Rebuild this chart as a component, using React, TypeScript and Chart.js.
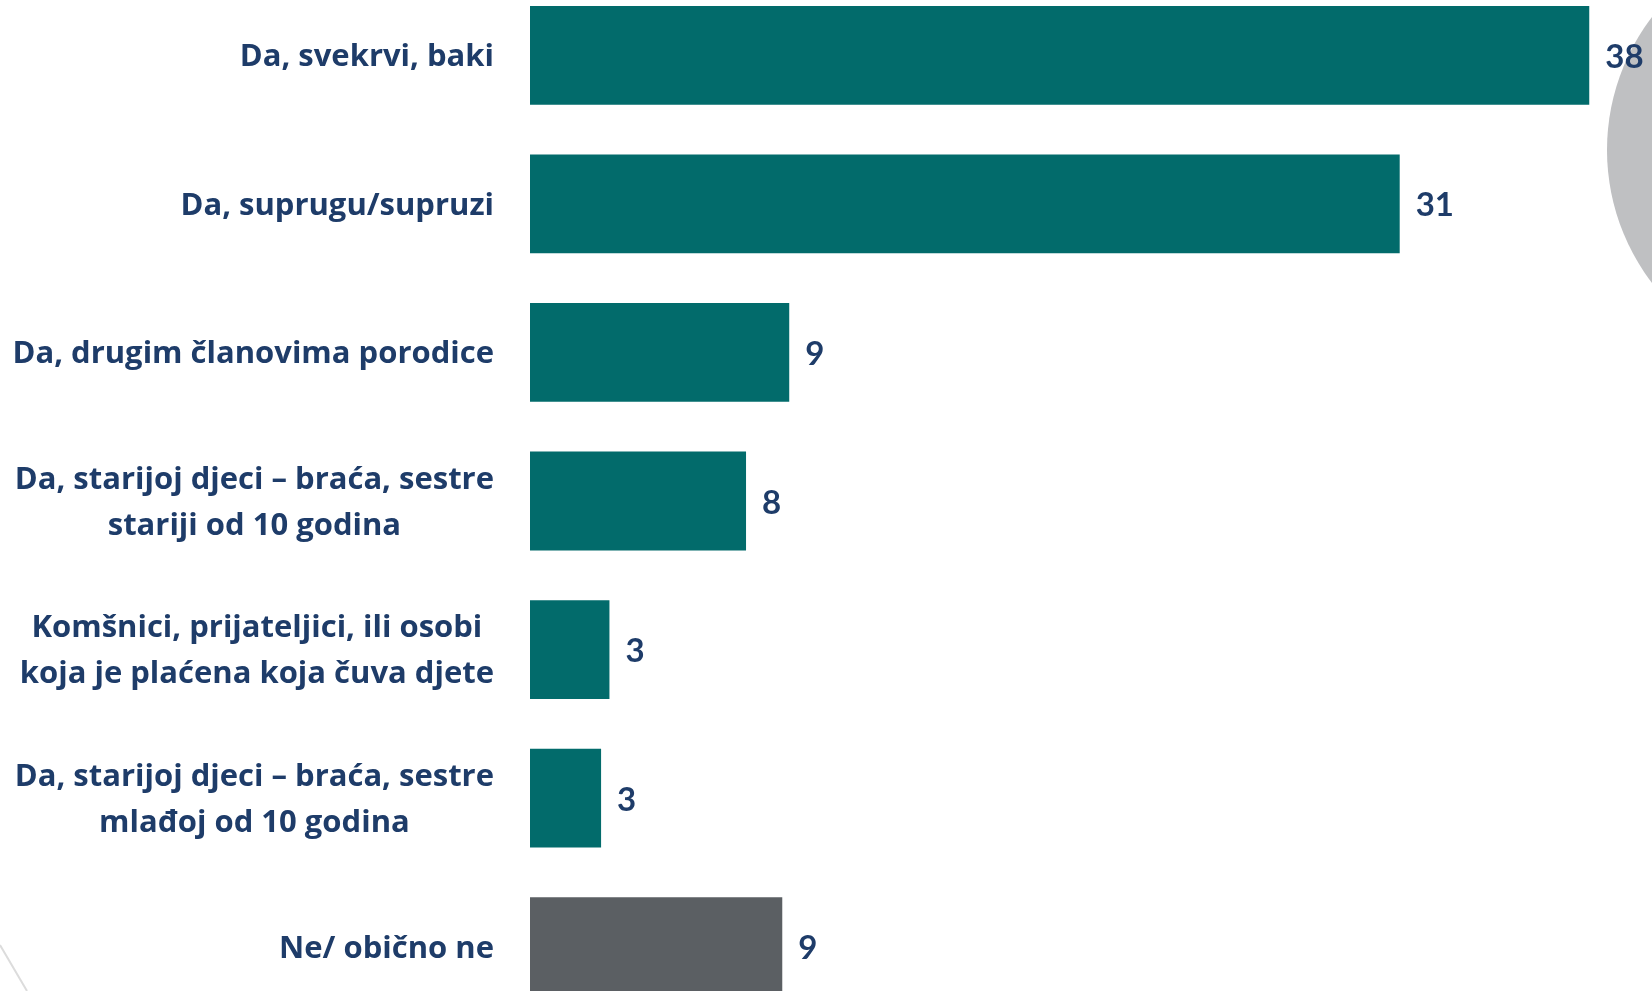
import React, { useEffect, useRef } from "react";
import { Chart, registerables } from "chart.js";

Chart.register(...registerables);

const categories: string[][] = [
  ["Da, svekrvi, baki"],
  ["Da, suprugu/supruzi"],
  ["Da, drugim članovima porodice"],
  ["Da, starijoj djeci – braća, sestre", "stariji od 10 godina"],
  ["Komšnici, prijateljici, ili osobi", "koja je plaćena koja čuva djete"],
  ["Da, starijoj djeci – braća, sestre", "mlađoj od 10 godina"],
  ["Ne/ obično ne"],
];
const values: number[] = [38, 31.2, 9.3, 7.75, 2.85, 2.55, 9.05];
const valueLabels: string[] = ["38", "31", "9", "8", "3", "3", "9"];
const barColors: string[] = ["#026b6b", "#026b6b", "#026b6b", "#026b6b", "#026b6b", "#026b6b", "#5b5f63"];

const TEXT_COLOR = "#1e3c69";
const LABEL_FONT = "'Open Sans', Lato, sans-serif";
const VALUE_FONT = "Lato, 'Open Sans', sans-serif";
const CANVAS_TOP = -19;

export default function App() {
  const ref = useRef<HTMLCanvasElement | null>(null);
  useEffect(() => {
    if (!ref.current) return;
    const bgPlugin = {
      id: "bg",
      beforeDraw(chart: any) {
        const ctx = chart.ctx;
        ctx.save();
        ctx.fillStyle = "#bfc0c2";
        ctx.beginPath();
        ctx.arc(1826, 150 - CANVAS_TOP, 219, 0, Math.PI * 2);
        ctx.fill();
        ctx.strokeStyle = "#dcdcdc";
        ctx.lineWidth = 2;
        ctx.beginPath();
        ctx.moveTo(0, 945 - CANVAS_TOP);
        ctx.lineTo(27, 991 - CANVAS_TOP);
        ctx.stroke();
        ctx.restore();
      },
    };
    const labelPlugin = {
      id: "labels",
      afterDraw(chart: any) {
        const ctx = chart.ctx;
        const yScale = chart.scales.y;
        ctx.save();
        ctx.fillStyle = TEXT_COLOR;
        ctx.font = `bold 31px ${LABEL_FONT}`;
        ctx.textBaseline = "middle";
        ctx.textAlign = "center";
        const lh = 46;
        const right = 494;
        (chart.data.labels as string[][]).forEach((lines, i) => {
          const y = yScale.getPixelForTick(i) + 2;
          const w = Math.max(...lines.map((l) => ctx.measureText(l).width));
          const cx = right - w / 2;
          const start = y - ((lines.length - 1) * lh) / 2;
          lines.forEach((l, j) => ctx.fillText(l, cx, start + j * lh));
        });
        ctx.font = `bold 33px ${VALUE_FONT}`;
        ctx.textAlign = "left";
        const meta = chart.getDatasetMeta(0);
        meta.data.forEach((bar: any, i: number) => {
          ctx.fillText(valueLabels[i], bar.x + 16, bar.y + 2);
        });
        ctx.restore();
      },
    };
    const chart = new Chart(ref.current, {
      type: "bar",
      data: {
        labels: categories,
        datasets: [
          {
            data: values,
            backgroundColor: barColors,
            borderWidth: 0,
            categoryPercentage: 1,
            barPercentage: 0.665,
          },
        ],
      },
      options: {
        indexAxis: "y",
        animation: false,
        responsive: false,
        layout: { padding: { left: 0, right: 7, top: 0, bottom: 0 } },
        plugins: { legend: { display: false }, tooltip: { enabled: false } },
        scales: {
          x: { display: false, min: 0, max: 40 },
          y: {
            grid: { display: false, drawTicks: false },
            border: { display: false },
            ticks: { display: false },
            afterFit(scale: any) {
              scale.width = 530;
            },
          },
        },
      },
      plugins: [bgPlugin, labelPlugin],
    });
    return () => chart.destroy();
  }, []);
  return (
    <div
      style={{
        position: "fixed",
        top: 0,
        left: 0,
        width: 1652,
        height: 991,
        overflow: "hidden",
        background: "#ffffff",
      }}
    >
      <canvas
        ref={ref}
        width={1652}
        height={1040}
        style={{ position: "absolute", top: CANVAS_TOP, left: 0, width: 1652, height: 1040 }}
      />
    </div>
  );
}
